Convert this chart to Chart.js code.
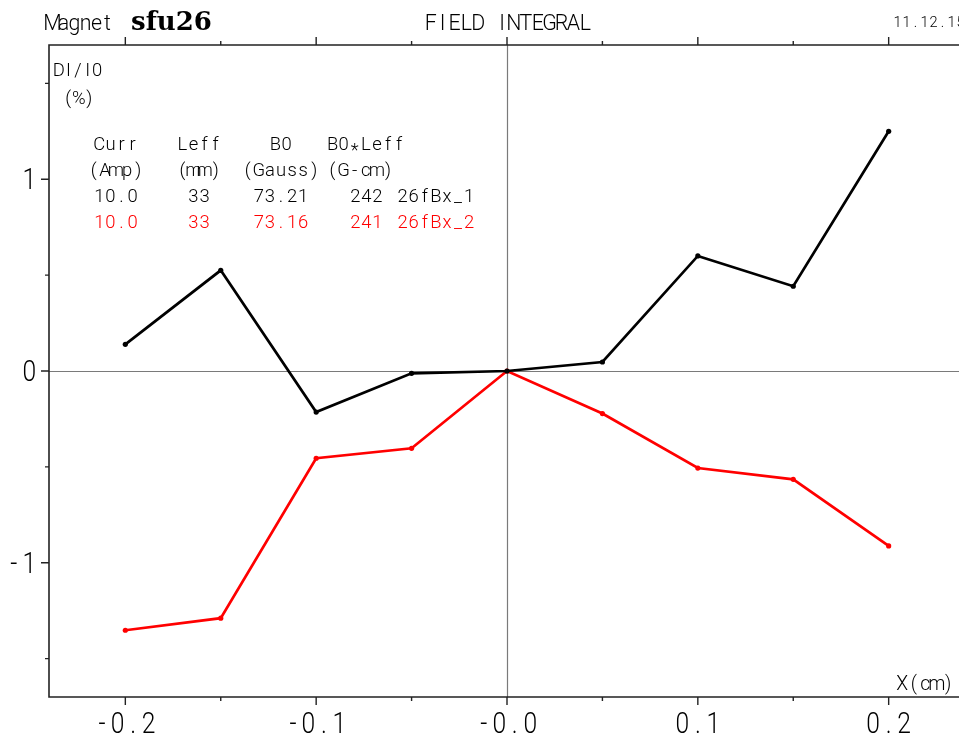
<!DOCTYPE html>
<html>
<head>
<meta charset="utf-8">
<script src="https://cdn.jsdelivr.net/npm/chart.js@4/dist/chart.umd.min.js"></script>
<style>
  html, body { margin: 0; padding: 0; background: #fff; overflow: hidden; }
  #wrap { width: 959px; height: 738px; overflow: hidden; position: relative; }
  canvas { display: block; }
</style>
</head>
<body>
<div id="wrap"><canvas id="c" width="969" height="738"></canvas></div>
<script>
// Transverse positions (cm) and relative field-integral deviation DI/I0 (%)
const xPositions = [-0.2, -0.15, -0.1, -0.05, 0, 0.05, 0.1, 0.15, 0.2];
const run1 = [0.139, 0.525, -0.214, -0.012, 0, 0.047, 0.600, 0.442, 1.250];
const run2 = [-1.352, -1.289, -0.455, -0.403, 0, -0.222, -0.506, -0.565, -0.912];

// Axis ticks
const xMajorTicks = [-0.2, -0.1, 0, 0.1, 0.2];
const xMajorLabels = ['-0.2', '-0.1', '-0.0', '0.1', '0.2'];
const xMinorTicks = [-0.15, -0.05, 0.05, 0.15];
const yMajorTicks = [-1, 0, 1];
const yMajorLabels = ['-1', '0', '1'];
const yMinorTicks = [-1.5, -0.5, 0.5, 1.5];

// Measurement summary table
const tableHead1 = ['Curr', 'Leff', 'B0', 'B0*Leff'];
const tableHead2 = ['(Amp)', '(mm)', '(Gauss)', '(G-cm)'];
const run1Info = ['10.0', '33', '73.21', '242', '26fBx_1'];
const run2Info = ['10.0', '33', '73.16', '241', '26fBx_2'];

const THIN = "'Roboto', 'Open Sans', 'DejaVu Sans', sans-serif";

// Plotter-style lettering: thin glyphs placed on a fixed character pitch
function mono(ctx, s, x, y, size, pitch, opts) {
  opts = opts || {};
  const n = s.length;
  let x0 = x;
  if (opts.align === 'center') x0 = x - n * pitch / 2;
  else if (opts.align === 'right') x0 = x - n * pitch;
  ctx.save();
  ctx.font = '300 ' + size + 'px ' + THIN;
  ctx.fillStyle = opts.color || '#000';
  ctx.textAlign = 'center';
  ctx.textBaseline = 'alphabetic';
  for (let i = 0; i < n; i++) {
    const ch = s[i];
    if (ch === ' ') continue;
    ctx.save();
    ctx.translate(x0 + (i + 0.5) * pitch, y + (ch === '*' ? size * 0.3 : 0));
    ctx.scale(opts.sx || 0.97, 1);
    ctx.fillText(ch, 0, 0);
    ctx.restore();
  }
  ctx.restore();
}

const framePlugin = {
  id: 'frame',
  beforeDatasetsDraw(chart) {
    const { ctx, chartArea: a, scales: { x, y } } = chart;
    ctx.save();
    ctx.strokeStyle = '#7a7a7a';
    ctx.lineWidth = 1.2;
    const x0 = Math.round(x.getPixelForValue(0)) + 0.5;
    const y0 = Math.round(y.getPixelForValue(0)) + 0.5;
    ctx.beginPath();
    ctx.moveTo(x0, a.top); ctx.lineTo(x0, a.bottom);
    ctx.moveTo(a.left, y0); ctx.lineTo(a.right, y0);
    ctx.stroke();
    ctx.restore();
  },
  afterDraw(chart) {
    const { ctx, chartArea: a, scales: { x, y } } = chart;
    ctx.save();
    ctx.strokeStyle = '#222';
    ctx.lineWidth = 1.6;
    ctx.beginPath();
    ctx.rect(a.left, a.top, a.right - a.left, a.bottom - a.top);
    ctx.stroke();

    ctx.lineWidth = 1.4;
    ctx.beginPath();
    const xt = (v, len) => {
      const p = x.getPixelForValue(v);
      ctx.moveTo(p, a.top); ctx.lineTo(p, a.top - len);
      ctx.moveTo(p, a.bottom); ctx.lineTo(p, a.bottom + len);
    };
    xMajorTicks.forEach(v => xt(v, 8));
    xMinorTicks.forEach(v => xt(v, 4));
    const yt = (v, len) => {
      const p = y.getPixelForValue(v);
      ctx.moveTo(a.left, p); ctx.lineTo(a.left - len, p);
    };
    yMajorTicks.forEach(v => yt(v, 8));
    yMinorTicks.forEach(v => yt(v, 4));
    ctx.stroke();
    ctx.restore();

    // tick labels
    xMajorTicks.forEach((v, i) => {
      mono(ctx, xMajorLabels[i], x.getPixelForValue(v), a.bottom + 36, 29, 15.5, { align: 'center', sx: 0.85 });
    });
    yMajorTicks.forEach((v, i) => {
      mono(ctx, yMajorLabels[i], a.left - 12, y.getPixelForValue(v) + 10, 29, 15.5, { align: 'right', sx: 0.85 });
    });

    // header
    mono(ctx, 'Magnet', 47, 30, 22, 11);
    ctx.save();
    ctx.font = "bold 26px 'DejaVu Serif', serif";
    ctx.fillStyle = '#000';
    ctx.fillText('sfu26', 131, 30);
    ctx.restore();
    mono(ctx, 'FIELD INTEGRAL', 508, 30, 22, 11.9, { align: 'center' });
    mono(ctx, '11.12.15', 893, 27, 15, 9);

    // axis titles
    mono(ctx, 'DI/I0', 54, 76, 19, 9.6);
    mono(ctx, '(%)', 63, 104, 19, 10.5);
    mono(ctx, 'X(cm)', 954, 690, 20, 11.5, { align: 'right' });

    // table
    const cols = [116, 199, 281];
    const rows = [150, 176, 202, 228];
    const P = 11.1, S = 19;
    [tableHead1, tableHead2].forEach((row, r) => {
      row.forEach((s, i) => {
        if (i < 3) mono(ctx, s, cols[i], rows[r], S, P, { align: 'center' });
        else mono(ctx, s, 327, rows[r], S, P);
      });
    });
    [[run1Info, '#000'], [run2Info, '#ff0000']].forEach(([row, col], r) => {
      const yy = rows[2 + r];
      for (let i = 0; i < 3; i++) mono(ctx, row[i], cols[i], yy, S, P, { align: 'center', color: col });
      mono(ctx, row[3], 383, yy, S, P, { align: 'right', color: col });
      mono(ctx, row[4], 397, yy, S, P, { color: col });
    });
  }
};

new Chart(document.getElementById('c'), {
  type: 'line',
  data: {
    datasets: [
      {
        label: '26fBx_1',
        data: xPositions.map((v, i) => ({ x: v, y: run1[i] })),
        borderColor: '#000',
        backgroundColor: '#000',
        borderWidth: 2.7,
        pointRadius: 2.6,
        pointBorderWidth: 0,
        tension: 0
      },
      {
        label: '26fBx_2',
        data: xPositions.map((v, i) => ({ x: v, y: run2[i] })),
        borderColor: '#ff0000',
        backgroundColor: '#ff0000',
        borderWidth: 2.7,
        pointRadius: 2.6,
        pointBorderWidth: 0,
        tension: 0
      }
    ]
  },
  options: {
    responsive: false,
    animation: false,
    layout: { padding: { left: 49, right: 2, top: 45, bottom: 41 } },
    plugins: { legend: { display: false }, tooltip: { enabled: false } },
    scales: {
      x: { type: 'linear', min: -0.24, max: 0.24, display: false },
      y: { type: 'linear', min: -1.7, max: 1.7, display: false }
    }
  },
  plugins: [framePlugin]
});
</script>
</body>
</html>
